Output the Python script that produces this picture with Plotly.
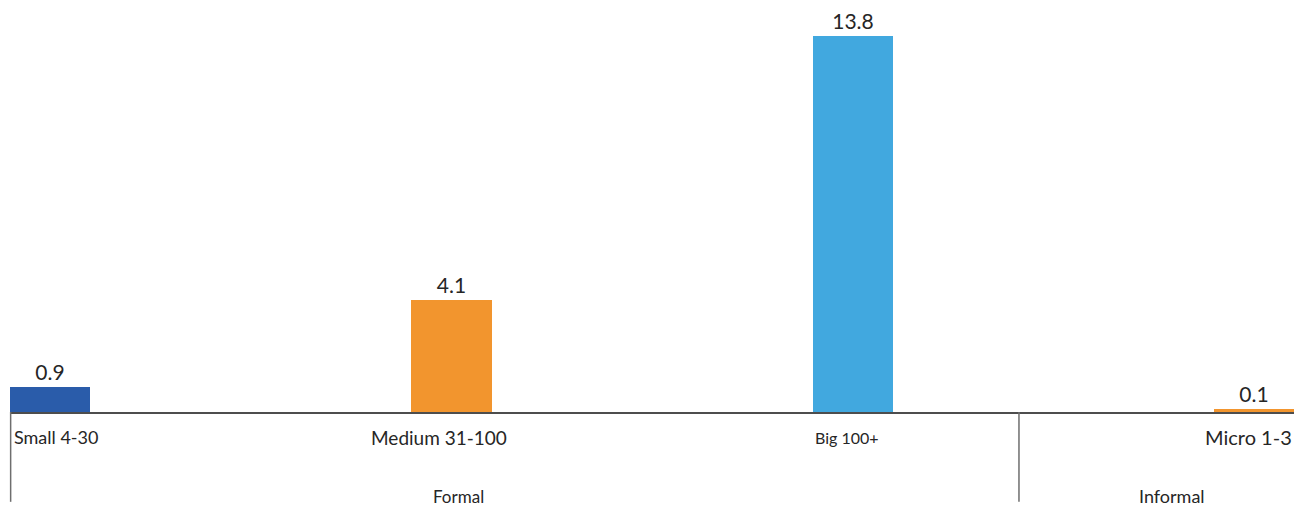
import plotly.graph_objects as go

categories = ["Small 4-30", "Medium 31-100", "Big 100+", "Micro 1-3"]
values = [0.9, 4.1, 13.8, 0.1]
value_labels = ["0.9", "4.1", "13.8", "0.1"]
bar_colors = ["#2A5CAA", "#F2952E", "#41A8DF", "#F2952E"]
groups = ["Formal", "Informal"]

FONT = "Lato"
TXT = "#262626"

fig = go.Figure()
fig.add_trace(go.Bar(
    x=categories, y=values, width=0.2,
    marker=dict(color=bar_colors, line=dict(width=0)),
    text=value_labels, textposition="outside",
    textfont=dict(family=FONT, size=21, color=TXT),
    cliponaxis=False, hoverinfo="skip",
))

# category labels
label_specs = [
    dict(xanchor="left", xshift=-38, size=18),
    dict(xanchor="center", xshift=-12, size=19),
    dict(xanchor="center", xshift=-6, size=16),
    dict(xanchor="right", xshift=40, size=20),
]
for cat, spec in zip(categories, label_specs):
    fig.add_annotation(x=cat, xref="x", y=-0.061, yref="paper", text=cat,
                       showarrow=False, xanchor=spec["xanchor"], yanchor="middle",
                       xshift=spec["xshift"],
                       font=dict(family=FONT, size=spec["size"], color=TXT))

# group labels
for g, gx, size in zip(groups, [0.349, 0.905], [17, 18]):
    fig.add_annotation(x=gx, xref="paper", y=-0.205, yref="paper", text=g,
                       showarrow=False, xanchor="center", yanchor="middle",
                       font=dict(family=FONT, size=size, color=TXT))

# group separator lines
for sx in [0.0005, 0.7858]:
    fig.add_shape(type="line", xref="paper", yref="paper", x0=sx, x1=sx,
                  y0=0, y1=-0.218, line=dict(color="#6E6E6E", width=1.5))

fig.update_layout(
    width=1298, height=509,
    margin=dict(l=10, r=4, t=0, b=97),
    paper_bgcolor="white", plot_bgcolor="white",
    showlegend=False, bargap=0,
    xaxis=dict(range=[-0.1, 3.1], showticklabels=False, ticks="",
               showgrid=False, zeroline=False, showline=True,
               linecolor="#4D4D4D", linewidth=1.5),
    yaxis=dict(range=[0, 15.12], visible=False, showgrid=False, zeroline=False),
)

fig.write_html("out.html")
